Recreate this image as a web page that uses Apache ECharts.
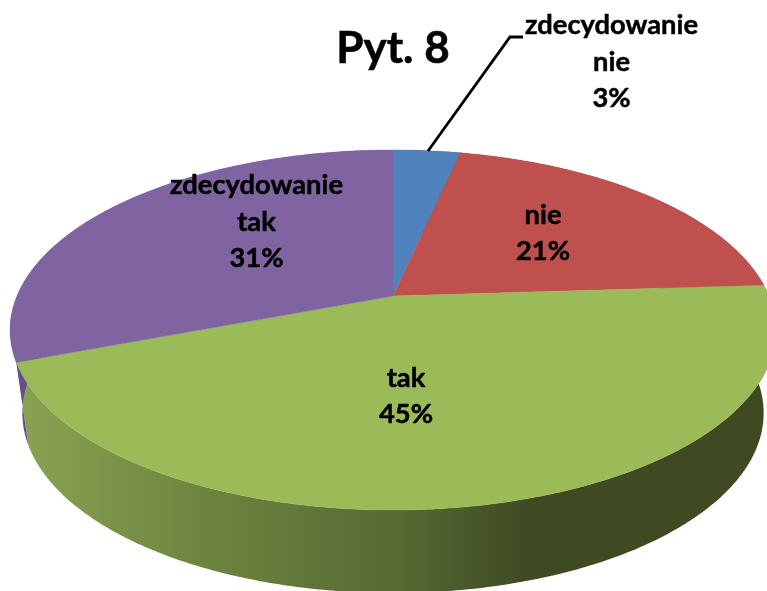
<!DOCTYPE html>
<html>
<head>
<meta charset="utf-8">
<script src="https://cdn.jsdelivr.net/npm/echarts@6/dist/echarts.min.js"></script>
<style>html,body{margin:0;padding:0;background:#fff}#c{width:767px;height:591px}</style>
</head>
<body>
<div id="c"></div>
<script>
const titleText = 'Pyt. 8';
const categories = ['zdecydowanie nie', 'nie', 'tak', 'zdecydowanie tak'];
const labelNames = ['zdecydowanie\nnie', 'nie', 'tak', 'zdecydowanie\ntak'];
const values = [3.4, 20.6, 45.2, 30.8];
const colors = ['#4F81BD', '#C0504D', '#9BBB59', '#8064A2'];
const wallColors = ['#3B6190', '#903C3A', null, '#65508C'];

// layout of the tilted disc
const CX = 393, CY = 296, RX = 376, RY = 173.6, PERSP = 0.189, DEPTH = 83, BOTTOM_SCALE = 0.968;
const labelAnchors = [[611.5, 62], [543, 233], [406, 396], [256.5, 222]];
const leader = [[428, 151], [510, 37], [523, 37]];

const total = values.reduce((a, b) => a + b, 0);
function sliceRange(i) {
  let s = 0;
  for (let k = 0; k < i; k++) s += values[k];
  return [s / total * Math.PI * 2, (s + values[i]) / total * Math.PI * 2];
}
function project(t) {
  const xn = Math.sin(t), yn = -Math.cos(t), w = 1 - PERSP * yn;
  return [CX + RX * xn / w, CY + RY * yn / w];
}
function rim(a, b, bottom) {
  const n = Math.max(4, Math.ceil((b - a) / 0.01)), pts = [];
  for (let j = 0; j <= n; j++) {
    const p = project(a + (b - a) * j / n);
    pts.push(bottom ? [CX + (p[0] - CX) * BOTTOM_SCALE, p[1] + DEPTH] : p);
  }
  return pts;
}
const wallGradient = new echarts.graphic.LinearGradient(0, 0, 767, 0, [
  { offset: 0, color: '#8CA654' },
  { offset: 0.26, color: '#6E8540' },
  { offset: 0.52, color: '#566A33' },
  { offset: 0.69, color: '#3F4A23' },
  { offset: 1, color: '#3F4A23' }
], true);

function renderWall(params) {
  const i = params.dataIndex, r = sliceRange(i);
  const pts = rim(r[0], r[1], false).concat(rim(r[0], r[1], true).reverse());
  return { type: 'polygon', shape: { points: pts }, style: { fill: wallColors[i] || wallGradient } };
}
function renderTop(params) {
  const i = params.dataIndex, r = sliceRange(i);
  const pts = [[CX, CY]].concat(rim(r[0], r[1], false));
  const children = [{
    type: 'polygon', shape: { points: pts },
    style: { fill: colors[i], stroke: colors[i], lineWidth: 0.4 }, z2: 1
  }, {
    type: 'text', z2: 5,
    style: {
      x: labelAnchors[i][0], y: labelAnchors[i][1],
      text: labelNames[i] + '\n' + Math.round(values[i] / total * 100) + '%',
      fill: '#000', stroke: '#000', lineWidth: 0.5, font: 'bold 27.3px Lato', lineHeight: 36.5,
      align: 'center', verticalAlign: 'middle'
    }
  }];
  if (i === 0) {
    children.push({
      type: 'polyline', z2: 4, shape: { points: leader },
      style: { stroke: '#000', lineWidth: 2.8, fill: null }
    });
  }
  return { type: 'group', children };
}
const chartData = categories.map((c, i) => ({ name: c, value: values[i] }));
const chart = echarts.init(document.getElementById('c'), null, { renderer: 'canvas' });
chart.setOption({
  animation: false,
  title: {
    text: titleText, left: 388, top: 22, textAlign: 'center',
    textStyle: { fontFamily: 'Lato', fontWeight: 'bold', fontSize: 44, color: '#000', textBorderColor: '#000', textBorderWidth: 0.6 }
  },
  tooltip: { show: false },
  series: [
    { type: 'custom', name: 'wall', coordinateSystem: 'none', data: chartData, renderItem: renderWall, z: 1, silent: true },
    { type: 'custom', name: 'top', coordinateSystem: 'none', data: chartData, renderItem: renderTop, z: 2, silent: true }
  ]
});
</script>
</body>
</html>
